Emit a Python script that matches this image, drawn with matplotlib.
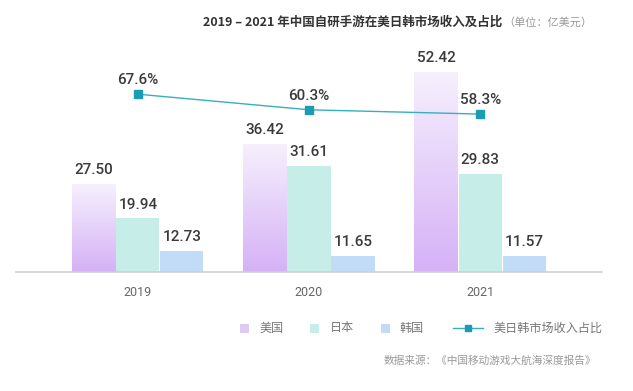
import matplotlib
matplotlib.use('Agg')
import matplotlib.pyplot as plt
from matplotlib.patches import Rectangle
from matplotlib.lines import Line2D
from matplotlib.colors import LinearSegmentedColormap
import numpy as np

plt.rcParams['font.family'] = ['Noto Sans CJK SC', 'DejaVu Sans']

years = ['2019', '2020', '2021']
usa = [27.50, 36.42, 52.42]
japan = [19.94, 31.61, 29.83]
korea = [12.73, 11.65, 11.57]
share = [67.6, 60.3, 58.3]
series_names = ['美国', '日本', '韩国', '美日韩市场收入占比']

title_main = '2019 – 2021 年中国自研手游在美日韩市场收入及占比'
title_unit = '（单位：亿美元）'
source = '数据来源：《中国移动游戏大航海深度报告》'

c_jp = '#c6ede8'
c_kr = '#c2dcf8'
c_line = '#36b0bf'
c_marker = '#1a9db3'
us_cmap = LinearSegmentedColormap.from_list('us', ['#d5b1f6', '#f6f0fd'])

W, H = 633, 391
fig = plt.figure(figsize=(W / 100, H / 100), dpi=100)
ax = fig.add_axes([16 / W, 119 / H, 586 / W, 212 / H])

x = np.arange(len(years))
bw = 0.257
ylo, yhi = 8.07, 55.08

b_us = ax.bar(x - bw, usa, bw, color='none', zorder=2)
b_jp = ax.bar(x, japan, bw - 0.004, color=c_jp, zorder=2)
b_kr = ax.bar(x + bw, korea, bw - 0.004, color=c_kr, zorder=2)

grad = np.linspace(0, 1, 256).reshape(-1, 1)
for b in b_us:
    x0 = b.get_x()
    top = b.get_height()
    im = ax.imshow(grad, extent=[x0, x0 + b.get_width() - 0.004, ylo, top],
                   origin='lower', aspect='auto', cmap=us_cmap, zorder=2)
    im.set_clip_path(b)

for bars, vals in [(b_us, usa), (b_jp, japan), (b_kr, korea)]:
    for b, v in zip(bars, vals):
        ax.annotate('%.2f' % v, (b.get_x() + b.get_width() / 2, v),
                    xytext=(0, 5), textcoords='offset points', ha='center',
                    va='bottom', fontsize=11, color='#3a3a3a', family='Roboto',
                    fontweight='medium')

ax.set_xlim(-0.711, 2.711)
ax.set_ylim(ylo, yhi)
ax.set_xticks(x)
ax.set_xticklabels(years, fontsize=9, color='#666666', family='Roboto')
ax.tick_params(axis='x', length=0, pad=10)
ax.set_yticks([])
for s in ['top', 'right', 'left']:
    ax.spines[s].set_visible(False)
ax.spines['bottom'].set_color('#d0d0d0')
ax.spines['bottom'].set_linewidth(1.2)

ax2 = ax.twinx()
ax2.plot(x, share, color=c_line, lw=1, marker='s', markersize=5.5,
         markerfacecolor=c_marker, markeredgecolor=c_marker, zorder=5)
for xi, v in zip(x, share):
    ax2.annotate('%.1f%%' % v, (xi, v), xytext=(0, 5), textcoords='offset points',
                 ha='center', va='bottom', fontsize=11, color='#3a3a3a',
                 family='Roboto', fontweight='medium')
ax2.set_ylim(-15.6, 83.6)
ax2.set_yticks([])
ax2.axis('off')

# title
fig.text(203 / W, 1 - 22 / H, title_main, fontsize=9, fontweight='bold',
         color='#333333', va='center', ha='left')
fig.text(503 / W, 1 - 22 / H, title_unit, fontsize=8, color='#999999',
         va='center', ha='left')

# legend
ly = 1 - 328 / H
sq = 9
for px, col, name, tx in [(240, None, series_names[0], 259),
                          (310, c_jp, series_names[1], 330),
                          (381, c_kr, series_names[2], 400)]:
    fc = col if col else '#ddcaf5'
    fig.add_artist(Rectangle((px / W, ly - sq / 2 / H), sq / W, sq / H,
                             transform=fig.transFigure, facecolor=fc, edgecolor='none'))
    fig.text(tx / W, ly, name, fontsize=8.7, color='#777777', va='center', ha='left')
fig.add_artist(Line2D([453 / W, 483 / W], [ly, ly], transform=fig.transFigure,
                      color=c_line, lw=1))
fig.add_artist(Line2D([468 / W], [ly], transform=fig.transFigure, marker='s',
                      markersize=5, color=c_marker))
fig.text(493 / W, ly, series_names[3], fontsize=8.7, color='#777777',
         va='center', ha='left')

fig.text(596 / W, 1 - 360 / H, source, fontsize=7.7, color='#999999',
         va='center', ha='right')

fig.savefig('out.png', dpi=100, facecolor='white')
